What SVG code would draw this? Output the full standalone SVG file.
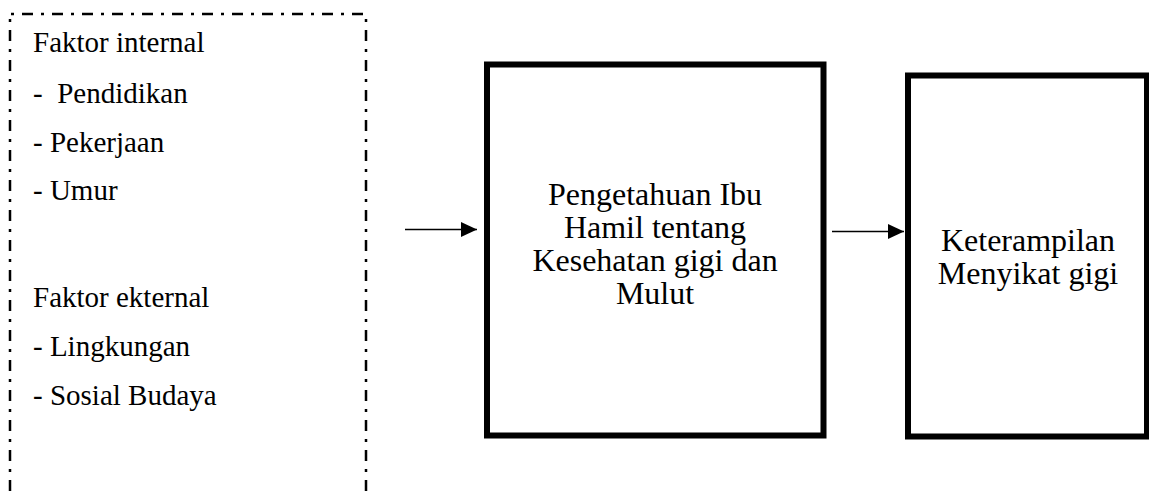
<svg xmlns="http://www.w3.org/2000/svg" width="1149" height="495" viewBox="0 0 1149 495">
<style>
  .t { font-family: "Liberation Serif", "Times New Roman", serif; fill: #000; }
  .l { font-size: 29px; }
  .c { font-size: 32px; text-anchor: middle; }
  .dash { stroke: #000; stroke-width: 2.5; fill: none; stroke-dasharray: 11 8 3 8; }
  .box { stroke: #000; stroke-width: 6; fill: #fff; }
  .conn { stroke: #000; stroke-width: 1.5; fill: none; }
</style>
<defs>
  <marker id="ah" markerUnits="userSpaceOnUse" markerWidth="16" markerHeight="16" refX="16" refY="7.5" orient="auto">
    <path d="M0,0 L16,7.5 L0,15 Z" fill="#000"/>
  </marker>
</defs>
<rect width="1149" height="495" fill="#fff"/>
<g id="factors">
  <line class="dash" x1="10" y1="14" x2="366" y2="14" stroke-dashoffset="18"/>
  <line class="dash" x1="10" y1="14" x2="10" y2="500" stroke-dashoffset="14"/>
  <line class="dash" x1="366" y1="14" x2="366" y2="500" stroke-dashoffset="14"/>
  <text class="t l" x="33" y="52">Faktor internal</text>
  <text class="t l" x="33" y="103" xml:space="preserve">-  Pendidikan</text>
  <text class="t l" x="33" y="152">- Pekerjaan</text>
  <text class="t l" x="33" y="200">- Umur</text>
  <text class="t l" x="33" y="307">Faktor ekternal</text>
  <text class="t l" x="33" y="356">- Lingkungan</text>
  <text class="t l" x="33" y="405">- Sosial Budaya</text>
</g>
<g id="pengetahuan">
  <rect class="box" x="487" y="64.5" width="336.5" height="371"/>
  <text class="t c" x="655" y="205">Pengetahuan Ibu</text>
  <text class="t c" x="655" y="238">Hamil tentang</text>
  <text class="t c" x="655" y="271">Kesehatan gigi dan</text>
  <text class="t c" x="655" y="304">Mulut</text>
</g>
<g id="keterampilan">
  <rect class="box" x="908" y="75.5" width="239" height="361"/>
  <text class="t c" x="1028" y="251">Keterampilan</text>
  <text class="t c" x="1028" y="284">Menyikat gigi</text>
</g>
<g id="connectors">
  <line class="conn" x1="405" y1="229.5" x2="477" y2="229.5" marker-end="url(#ah)"/>
  <line class="conn" x1="832" y1="231.5" x2="904" y2="231.5" marker-end="url(#ah)"/>
</g>
</svg>
